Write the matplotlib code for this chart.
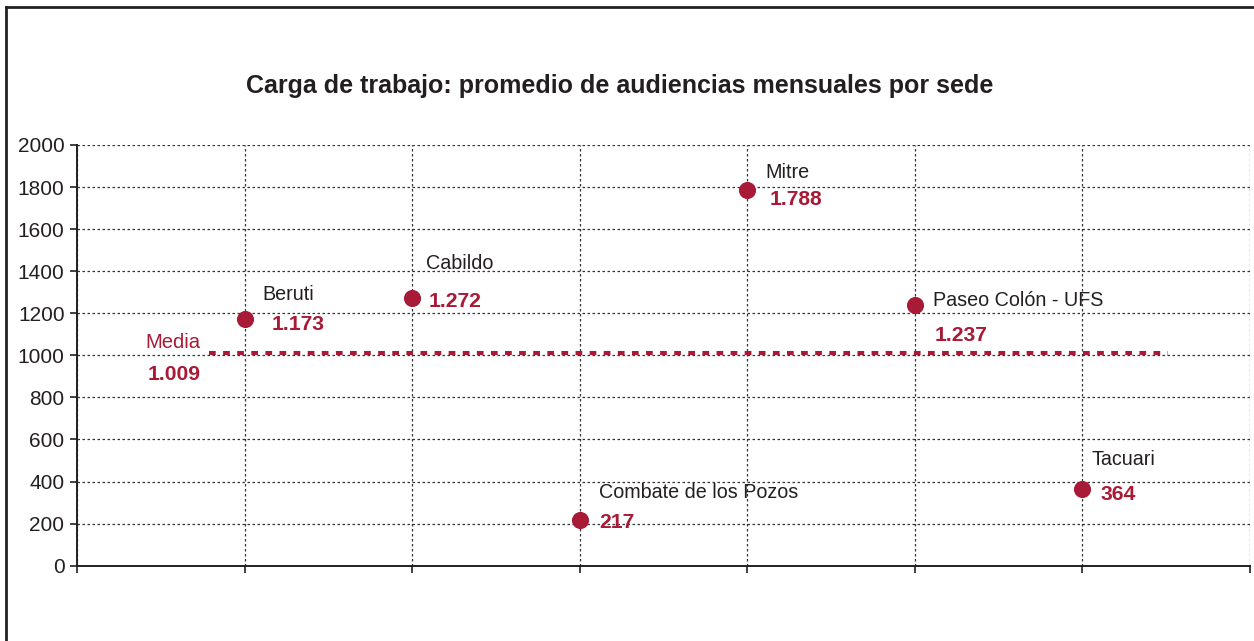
import matplotlib
matplotlib.use("Agg")
import matplotlib.pyplot as plt
from matplotlib import font_manager
from matplotlib.lines import Line2D

# ---- data ----
sedes = ["Beruti", "Cabildo", "Combate de los Pozos", "Mitre", "Paseo Colón - UFS", "Tacuari"]
audiencias = [1173, 1272, 217, 1788, 1237, 364]
value_labels = ["1.173", "1.272", "217", "1.788", "1.237", "364"]
media = 1009
media_label = "1.009"
title = "Carga de trabajo: promedio de audiencias mensuales por sede"
yticks = list(range(0, 2001, 200))

# ---- fonts ----
avail = {f.name for f in font_manager.fontManager.ttflist}
if "Liberation Sans Narrow" in avail:
    narrow, k = "Liberation Sans Narrow", 1.2
else:
    narrow, k = ("Liberation Sans" if "Liberation Sans" in avail else "DejaVu Sans"), 1.0
regular = "Liberation Sans" if "Liberation Sans" in avail else "DejaVu Sans"

RED = "#a81a35"
DARK = "#231f20"

W, H = 1254, 641
fig = plt.figure(figsize=(W / 100, H / 100), dpi=100)
fig.patch.set_facecolor("white")

left_px, right_px, top_px, bot_px = 77, 1250, 145, 565.7
ax = fig.add_axes([left_px / W, 1 - bot_px / H, (right_px - left_px) / W, (bot_px - top_px) / H])

x = list(range(1, len(sedes) + 1))
ax.set_xlim(0, 7)
ax.set_ylim(0, 2000)

ax.set_xticks(range(0, 8))
ax.set_xticklabels([])
ax.set_yticks(yticks)
ax.set_yticklabels([str(v) for v in yticks], fontfamily=regular, fontsize=15, color=DARK)
ax.tick_params(axis="both", direction="out", length=5, width=1.2, color=DARK, pad=4)

ax.grid(True, color="#333333", linestyle=(0, (2, 2)), linewidth=0.9)
ax.set_axisbelow(True)
for s in ["top", "right"]:
    ax.spines[s].set_visible(False)
for s in ["left", "bottom"]:
    ax.spines[s].set_linewidth(1.4)
    ax.spines[s].set_color(DARK)

name_fs = 14.2 * k
val_fs = 15.2 * k

# mean line
ax.plot([0.79, 6.51], [media, media], color=RED, linewidth=2.9,
        linestyle=(0, (1.67, 1.83)), solid_capstyle="butt", dash_capstyle="butt", zorder=3)
ax.annotate("Media", xy=(0.79, media), xytext=(-9, 5.4), textcoords="offset pixels",
            ha="right", va="baseline", color=RED, fontfamily=narrow, fontsize=name_fs + 0.4)
ax.annotate(media_label, xy=(0.79, media), xytext=(-9, -26.6), textcoords="offset pixels",
            ha="right", va="baseline", color=RED, fontfamily=narrow, fontsize=val_fs,
            fontweight="bold")

# points
ax.plot(x, audiencias, linestyle="none", marker="o", markersize=11.3,
        color=RED, markeredgecolor=RED, zorder=4)

name_off = [(18, 19.3), (14, 29.3), (19, 22.3), (18, 11.3), (18, -1), (9, 23.7)]
val_off = [(27, -10.7), (16, -8.7), (20, -7.7), (22, -15.7), (20, -35.3), (18, -11.3)]
for xi, yi, nm, vl, no, vo in zip(x, audiencias, sedes, value_labels, name_off, val_off):
    ax.annotate(nm, xy=(xi, yi), xytext=no, textcoords="offset pixels",
                ha="left", va="baseline", color=DARK, fontfamily=narrow, fontsize=name_fs,
                zorder=5)
    ax.annotate(vl, xy=(xi, yi), xytext=vo, textcoords="offset pixels",
                ha="left", va="baseline", color=RED, fontfamily=narrow, fontsize=val_fs,
                fontweight="bold", zorder=5)

# title
fig.text(620 / W, 1 - 93 / H, title, ha="center", va="baseline",
         fontfamily=narrow, fontsize=18 * k, fontweight="bold", color=DARK)

# frame (top and left border)
fig.add_artist(Line2D([6 / W, 6 / W], [0, 1 - 7 / H], color="#222222", linewidth=2.0))
fig.add_artist(Line2D([6 / W, 1], [1 - 7 / H, 1 - 7 / H], color="#222222", linewidth=2.0))

fig.savefig("out.png", dpi=100, facecolor="white")
